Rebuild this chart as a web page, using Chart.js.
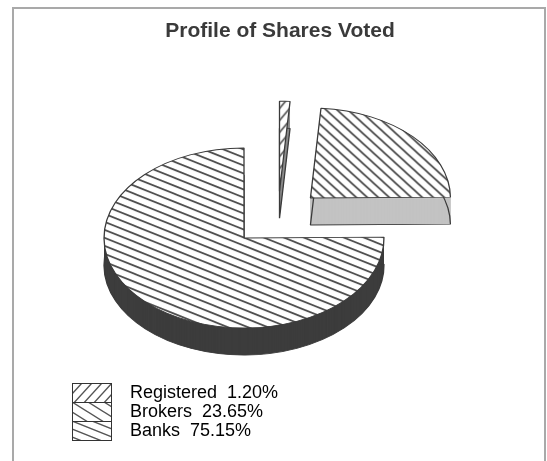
<!DOCTYPE html>
<html><head><meta charset="utf-8">
<script src="https://cdn.jsdelivr.net/npm/chart.js@4.4.1/dist/chart.umd.min.js"></script>
<style>
html,body{margin:0;padding:0;background:#fff;overflow:hidden;}
#wrap{position:relative;width:547px;height:461px;overflow:hidden;background:#fff;}
#frame{position:absolute;left:12px;top:7px;width:534px;height:480px;border:2px solid #a9a9a9;box-sizing:border-box;pointer-events:none;}
canvas{position:absolute;left:0;top:0;}
</style></head><body>
<div id="wrap"><canvas id="c" width="547" height="461"></canvas><div id="frame"></div></div>
<script>
// ---- data ----
const TITLE = 'Profile of Shares Voted';
const categories = ['Registered', 'Brokers', 'Banks'];
const shares = [1.20, 23.65, 75.15];

// ---- style ----
const FONT = "'Liberation Sans', Arial, sans-serif";
const VIEW = { tilt: 0.643, depth: 27, anchorX: 244, anchorY: 238 }; // where the pie centre is shown
const EXPLODE = [81, 91, 0];            // explode distance per slice
const EXPLODE_ANGLE = [26, null, null]; // degrees from top (null = slice middle)
const SIDE_COLORS = ['#8c8c8c', '#c3c3c3', '#3d3d3d'];
const LINE = '#4a4a4a';

function hatchTile(w, h, n, dir, lw, color) {
  const c = document.createElement('canvas'); c.width = w; c.height = h;
  const g = c.getContext('2d');
  g.fillStyle = '#fff'; g.fillRect(0, 0, w, h);
  g.strokeStyle = color; g.lineWidth = lw;
  const step = h / n;
  g.beginPath();
  for (let j = -2 * n; j <= 2 * n; j++) {
    const off = j * step;
    if (dir > 0) { g.moveTo(-w, -h + off); g.lineTo(2 * w, 2 * h + off); }
    else { g.moveTo(-w, 2 * h + off); g.lineTo(2 * w, -h + off); }
  }
  g.stroke();
  return c;
}

const mainCtx = document.getElementById('c').getContext('2d');
function facePattern(tile) {
  const p = mainCtx.createPattern(tile, 'repeat');
  p.setTransform(new DOMMatrix([1, 0, 0, 1 / VIEW.tilt, 0, 0]));
  return p;
}
const FACE_FILLS = [
  facePattern(hatchTile(10, 12, 1, -1, 1.5, LINE)),
  facePattern(hatchTile(11, 10, 1, 1, 1.7, LINE)),
  facePattern(hatchTile(40, 16, 2, 1, 1.7, LINE))
];

function swatch(tile, last) {
  const c = document.createElement('canvas'); c.width = 40; c.height = 20;
  const g = c.getContext('2d');
  g.fillStyle = g.createPattern(tile, 'repeat'); g.fillRect(0, 0, 40, 20);
  g.strokeStyle = '#333'; g.lineWidth = 1;
  g.beginPath();
  g.moveTo(0.5, 0); g.lineTo(0.5, 20); g.moveTo(39.5, 0); g.lineTo(39.5, 20);
  g.moveTo(0, 0.5); g.lineTo(40, 0.5);
  if (last) { g.moveTo(0, 19.5); g.lineTo(40, 19.5); }
  g.stroke();
  return c;
}
const SWATCHES = [
  swatch(hatchTile(10, 11, 1, -1, 1.4, '#555'), false),
  swatch(hatchTile(16, 10, 1, 1, 1.4, '#555'), false),
  swatch(hatchTile(20, 8, 1, 1, 1.4, '#555'), true)
];

const pie3d = {
  id: 'pie3d',
  beforeDatasetsDraw(chart) {
    const ctx = chart.ctx;
    const arcs = chart.getDatasetMeta(0).data;
    if (!arcs.length) return false;
    const cx = arcs[0].x, cy = arcs[0].y;
    ctx.save();
    ctx.translate(VIEW.anchorX, VIEW.anchorY);
    ctx.scale(1, VIEW.tilt);
    ctx.translate(-cx, -cy);
    const vec = arcs.map((a, i) => {
      const ang = EXPLODE_ANGLE[i] != null ? EXPLODE_ANGLE[i] * Math.PI / 180 - Math.PI / 2
                                            : (a.startAngle + a.endAngle) / 2;
      return [Math.cos(ang) * EXPLODE[i], Math.sin(ang) * EXPLODE[i]];
    });
    arcs.forEach((a, i) => {
      const side = Object.create(a);
      side.options = Object.assign({}, a.options, { backgroundColor: SIDE_COLORS[i], borderWidth: 0 });
      for (let d = VIEW.depth; d >= 0.5; d -= 0.5) {
        ctx.save(); ctx.translate(vec[i][0], vec[i][1] + d / VIEW.tilt); side.draw(ctx); ctx.restore();
      }
      const base = Object.create(a);
      base.options = Object.assign({}, a.options, { backgroundColor: 'rgba(0,0,0,0)' });
      ctx.save(); ctx.translate(vec[i][0], vec[i][1] + VIEW.depth / VIEW.tilt); base.draw(ctx); ctx.restore();
    });
    arcs.forEach((a, i) => {
      ctx.save(); ctx.translate(vec[i][0], vec[i][1]); a.draw(ctx); ctx.restore();
    });
    ctx.restore();
    return false;
  }
};

new Chart(document.getElementById('c'), {
  type: 'pie',
  data: {
    labels: categories,
    datasets: [{
      data: shares,
      backgroundColor: FACE_FILLS,
      borderColor: '#3a3a3a',
      borderWidth: 1.3,
      radius: 140,
      offset: 0,
      hoverOffset: 0
    }]
  },
  options: {
    responsive: false,
    animation: false,
    devicePixelRatio: 1,
    events: [],
    rotation: 0,
    layout: { padding: { left: 62, right: 49, top: 0, bottom: 20 } },
    plugins: {
      tooltip: { enabled: false },
      title: {
        display: true, text: TITLE, color: '#3a3a3a',
        font: { family: FONT, size: 21, weight: 'bold' },
        padding: { top: 19, bottom: 0 }
      },
      legend: {
        display: true, position: 'left', align: 'end',
        labels: {
          usePointStyle: true, pointStyleWidth: 58, boxHeight: 18, padding: 1,
          color: '#1e1e1e', font: { family: FONT, size: 18 },
          generateLabels: () => categories.map((c, i) => ({
            text: c + '  ' + shares[i].toFixed(2) + '%',
            pointStyle: SWATCHES[i], fillStyle: '#fff', strokeStyle: '#333',
            lineWidth: 1, hidden: false, index: i, datasetIndex: 0
          }))
        }
      }
    }
  },
  plugins: [pie3d]
});
</script>
</body></html>
